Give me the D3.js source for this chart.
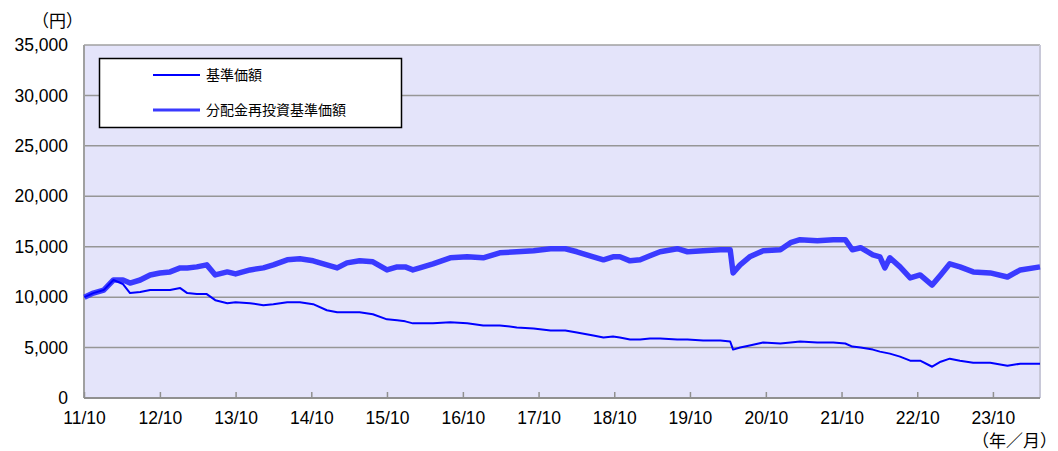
<!DOCTYPE html>
<html>
<head>
<meta charset="utf-8">
<script src="https://cdn.jsdelivr.net/npm/d3@7"></script>
<style>
  body { margin: 0; background: #fff; }
  text { font-family: "Liberation Sans", Arial, sans-serif; }
  .jp { font-family: "Noto Sans CJK JP", sans-serif; }
</style>
</head>
<body>
<div id="chart"></div>
<script>
// dates, with both series at each date
const dates = [
  "2011-10-03", "2011-11-15", "2012-01-04", "2012-02-20", "2012-04-06", "2012-05-10",
  "2012-06-28", "2012-08-15", "2012-10-01", "2012-11-19", "2013-01-07", "2013-02-10",
  "2013-03-28", "2013-05-15", "2013-06-25", "2013-08-22", "2013-10-01", "2013-12-10",
  "2014-02-12", "2014-04-01", "2014-06-07", "2014-08-07", "2014-10-10", "2014-12-15",
  "2015-02-03", "2015-03-22", "2015-05-22", "2015-07-25", "2015-10-01", "2015-11-19",
  "2015-12-28", "2016-02-03", "2016-03-07", "2016-05-10", "2016-08-01", "2016-10-22",
  "2017-01-07", "2017-03-28", "2017-06-18", "2017-09-07", "2017-11-28", "2018-02-07",
  "2018-04-04", "2018-06-22", "2018-08-10", "2018-09-25", "2018-10-28", "2018-12-16",
  "2019-02-03", "2019-03-22", "2019-05-10", "2019-08-01", "2019-09-19", "2019-12-04",
  "2020-02-25", "2020-04-12", "2020-04-26", "2020-05-30", "2020-07-15", "2020-09-18",
  "2020-12-10", "2021-01-28", "2021-03-15", "2021-06-06", "2021-08-22", "2021-10-19",
  "2021-11-22", "2022-01-01", "2022-03-01", "2022-04-04", "2022-04-28", "2022-05-22",
  "2022-07-10", "2022-08-28", "2022-10-15", "2022-12-12", "2023-01-22", "2023-03-07",
  "2023-04-25", "2023-06-28", "2023-09-18", "2023-12-10", "2024-02-10", "2024-05-15"
];

// 基準価額
const nav = [
  10000, 10400, 10700, 11700, 11300, 10400,
  10500, 10700, 10700, 10700, 10900, 10400,
  10300, 10300, 9700, 9400, 9500, 9400,
  9200, 9300, 9500, 9500, 9300, 8700,
  8500, 8500, 8500, 8300, 7800, 7700,
  7600, 7400, 7400, 7400, 7500, 7400,
  7200, 7200, 7000, 6900, 6700, 6700,
  6500, 6200, 6000, 6100, 6000, 5800,
  5800, 5900, 5900, 5800, 5800, 5700,
  5700, 5600, 4800, 5000, 5200, 5500,
  5400, 5500, 5600, 5500, 5500, 5400,
  5100, 5000, 4800, 4600, 4500, 4400,
  4100, 3700, 3700, 3100, 3600, 3900,
  3700, 3500, 3500, 3200, 3400, 3400
];

// 分配金再投資基準価額
const navReinvested = [
  10000, 10400, 10700, 11700, 11700, 11400,
  11700, 12200, 12400, 12500, 12900, 12900,
  13000, 13200, 12200, 12500, 12300, 12700,
  12900, 13200, 13700, 13800, 13600, 13200,
  12900, 13400, 13600, 13500, 12700, 13000,
  13000, 12700, 12900, 13300, 13900, 14000,
  13900, 14400, 14500, 14600, 14800, 14800,
  14500, 14000, 13700, 14000, 14000, 13600,
  13700, 14100, 14500, 14800, 14500, 14600,
  14700, 14700, 12400, 13200, 14000, 14600,
  14700, 15400, 15700, 15600, 15700, 15700,
  14700, 14900, 14200, 14000, 12900, 13900,
  13000, 11900, 12200, 11200, 12200, 13300,
  13000, 12500, 12400, 12000, 12700, 13000
];

const yTicks = [0, 5000, 10000, 15000, 20000, 25000, 30000, 35000];
const xTickDates = ["2011-10-01", "2012-10-01", "2013-10-01", "2014-10-01", "2015-10-01",
  "2016-10-01", "2017-10-01", "2018-10-01", "2019-10-01", "2020-10-01", "2021-10-01",
  "2022-10-01", "2023-10-01"];
const legendLabels = ["基準価額", "分配金再投資基準価額"];

const width = 1058, height = 451;
const margin = { top: 45, right: 18, bottom: 53, left: 84 };
const parse = d3.timeParse("%Y-%m-%d");

const svg = d3.select("#chart").append("svg")
  .attr("width", width)
  .attr("height", height);

const x = d3.scaleTime()
  .domain([parse("2011-10-01"), parse("2024-05-15")])
  .range([margin.left, width - margin.right]);

const y = d3.scaleLinear()
  .domain([0, 35000])
  .range([height - margin.bottom, margin.top]);

// plot background
svg.append("rect")
  .attr("x", margin.left)
  .attr("y", margin.top)
  .attr("width", x.range()[1] - margin.left)
  .attr("height", y(0) - margin.top)
  .attr("fill", "#e4e4fa");

// gridlines
svg.append("g")
  .selectAll("line")
  .data(yTicks.filter((d) => d > 0 && d < 35000))
  .join("line")
  .attr("x1", margin.left)
  .attr("x2", x.range()[1])
  .attr("y1", (d) => y(d))
  .attr("y2", (d) => y(d))
  .attr("stroke", "#969696")
  .attr("stroke-width", 1.5);

// frame
svg.append("line")
  .attr("x1", margin.left).attr("x2", x.range()[1])
  .attr("y1", margin.top).attr("y2", margin.top)
  .attr("stroke", "#a0a0a0").attr("stroke-width", 1.5);
svg.append("line")
  .attr("x1", x.range()[1]).attr("x2", x.range()[1])
  .attr("y1", margin.top).attr("y2", y(0))
  .attr("stroke", "#c8c8d8").attr("stroke-width", 2);
svg.append("line")
  .attr("x1", margin.left).attr("x2", margin.left)
  .attr("y1", margin.top).attr("y2", y(0))
  .attr("stroke", "#a0a0a0").attr("stroke-width", 2);

// y axis labels
const yAxis = d3.axisLeft(y)
  .tickValues(yTicks)
  .tickSize(0)
  .tickPadding(16)
  .tickFormat(d3.format(","));
svg.append("g")
  .attr("transform", `translate(${margin.left},0)`)
  .call(yAxis)
  .call((g) => g.select(".domain").remove())
  .call((g) => g.selectAll("text")
    .attr("font-family", "'Liberation Sans', Arial, sans-serif")
    .attr("font-size", 17.5)
    .attr("fill", "#000"));

// x axis
const xAxis = d3.axisBottom(x)
  .tickValues(xTickDates.map(parse))
  .tickSize(-6)
  .tickPadding(14)
  .tickFormat(d3.timeFormat("%y/%m"));
svg.append("g")
  .attr("transform", `translate(0,${y(0)})`)
  .call(xAxis)
  .call((g) => g.select(".domain")
    .attr("stroke", "#909090")
    .attr("stroke-width", 2)
    .attr("d", `M${margin.left},0H${x.range()[1]}`))
  .call((g) => g.selectAll(".tick line").attr("stroke", "#909090").attr("stroke-width", 1.5))
  .call((g) => g.selectAll("text")
    .attr("font-family", "'Liberation Sans', Arial, sans-serif")
    .attr("font-size", 17.5)
    .attr("fill", "#000"));

// series
const rows = dates.map((d, i) => ({ date: parse(d), nav: nav[i], re: navReinvested[i] }));

svg.append("path")
  .datum(rows)
  .attr("d", d3.line().x((d) => x(d.date)).y((d) => y(d.re)))
  .attr("fill", "none")
  .attr("stroke", "#3a3aff")
  .attr("stroke-width", 5.5)
  .attr("stroke-linejoin", "round");

svg.append("path")
  .datum(rows)
  .attr("d", d3.line().x((d) => x(d.date)).y((d) => y(d.nav)))
  .attr("fill", "none")
  .attr("stroke", "#0000ff")
  .attr("stroke-width", 2)
  .attr("stroke-linejoin", "round");

// legend
const legend = svg.append("g");
legend.append("rect")
  .attr("x", 99.5).attr("y", 58.5)
  .attr("width", 302).attr("height", 69)
  .attr("fill", "#fff")
  .attr("stroke", "#000")
  .attr("stroke-width", 1.5);

const legendColors = ["#0000ff", "#3a3aff"];
const legendWidths = [2, 3];
legendLabels.forEach((label, i) => {
  const ly = 75 + i * 35;
  legend.append("line")
    .attr("x1", 153).attr("x2", 200)
    .attr("y1", ly).attr("y2", ly)
    .attr("stroke", legendColors[i])
    .attr("stroke-width", legendWidths[i]);
  legend.append("text")
    .attr("class", "jp")
    .attr("x", 206).attr("y", ly)
    .attr("dy", "0.36em")
    .attr("font-size", 14)
    .text(label);
});

// unit labels
svg.append("text")
  .attr("class", "jp")
  .attr("x", 32).attr("y", 27)
  .attr("font-size", 17)
  .text("（円）");

svg.append("text")
  .attr("class", "jp")
  .attr("x", 1057).attr("y", 447)
  .attr("text-anchor", "end")
  .attr("font-size", 17)
  .text("（年／月）");
</script>
</body>
</html>
